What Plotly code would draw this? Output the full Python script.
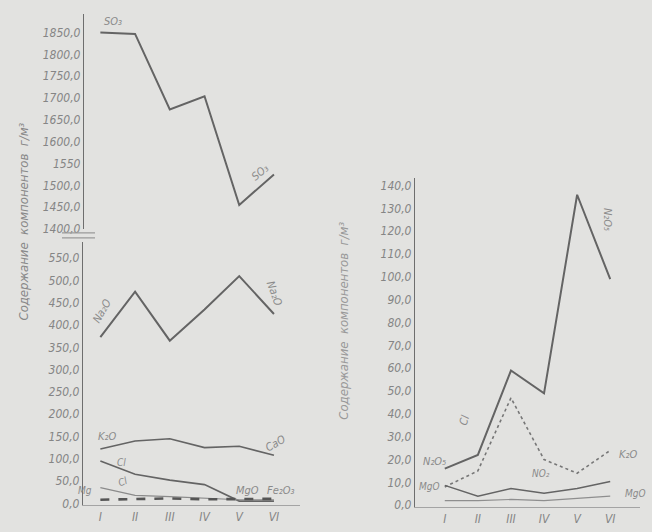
import plotly.graph_objects as go

# Months of observation
months = ["I", "II", "III", "IV", "V", "VI"]
month_idx = [1, 2, 3, 4, 5, 6]

# Left panel, upper scale (g/m3)
so3 = [1850, 1847, 1674, 1704, 1455, 1525]
# Left panel, lower scale (g/m3)
na2o = [373, 475, 365, 435, 510, 425]
k2o_left = [122, 140, 145, 125, 128, 108]
cl_left = [95, 65, 52, 42, 5, 5]
mgo_left = [35, 18, 15, 12, 8, 8]
fe2o3_left = [8, 9, 11, 9, 10, 10]

# Right panel (g/m3)
n2o5 = [16, 22, 59, 49, 136, 99]
k2o_right = [8, 15, 47, 20, 14, 24]
no2 = [8.7, 3.9, 7.3, 5.2, 7.3, 10.4]
mgo_right = [2, 2, 2.5, 2, 3, 4]

# Tick labels
upper_vals = [1400, 1450, 1500, 1550, 1600, 1650, 1700, 1750, 1800, 1850]
upper_text = ["1400,0", "1450,0", "1500,0", "1550", "1600,0", "1650,0",
              "1700,0", "1750,0", "1800,0", "1850,0"]
lower_vals = list(range(0, 551, 50))
lower_text = ["0,0", "50,0", "100,0", "150,0", "200,0", "250,0", "300,0",
              "350,0", "400,0", "450,0", "500,0", "550,0"]
right_vals = list(range(0, 141, 10))
right_text = ["0,0", "10,0", "20,0", "30,0", "40,0", "50,0", "60,0", "70,0",
              "80,0", "90,0", "100,0", "110,0", "120,0", "130,0", "140,0"]

W, H = 652, 532
INK = "#646464"
TXT = "#858585"
FONT = "DejaVu Sans Condensed"


def fy(p):
    return 1 - p / H


def fx(p):
    return p / W


fig = go.Figure()


def line(x, y, xa, ya, width=1.8, dash="solid", color=INK):
    fig.add_trace(go.Scatter(x=x, y=y, xaxis=xa, yaxis=ya, mode="lines",
                             line=dict(color=color, width=width, dash=dash),
                             hoverinfo="skip", showlegend=False))


line(month_idx, so3, "x", "y3", 2.0)
line(month_idx, na2o, "x", "y", 2.0)
line(month_idx, k2o_left, "x", "y", 1.6)
line(month_idx, cl_left, "x", "y", 1.6)
line(month_idx, mgo_left, "x", "y", 1.2, color="#8a8a8a")
line(month_idx, fe2o3_left, "x", "y", 2.6, dash="dash", color="#555555")

line(month_idx, n2o5, "x2", "y2", 2.0)
line(month_idx, k2o_right, "x2", "y2", 1.6, dash="dot", color="#777777")
line(month_idx, no2, "x2", "y2", 1.4)
line(month_idx, mgo_right, "x2", "y2", 1.2, color="#8e8e8e")

tickfont = dict(family=FONT, size=12, color=TXT, style="italic")
axis_common = dict(showgrid=False, zeroline=False, ticks="", showline=True,
                   linecolor="#6e6e6e", linewidth=1.3, tickfont=tickfont)
xaxis_common = dict(showgrid=False, zeroline=False, ticks="", showline=True,
                    linecolor="#a4a4a4", linewidth=1.0, tickfont=tickfont)

fig.update_layout(
    width=W, height=H,
    margin=dict(l=0, r=0, t=0, b=0),
    paper_bgcolor="#e2e2e0", plot_bgcolor="rgba(0,0,0,0)",
    xaxis=dict(domain=[fx(83), fx(300)], range=[0.5, 6.75], anchor="y",
               tickvals=month_idx, ticktext=months, **xaxis_common),
    yaxis=dict(domain=[fy(512), fy(245)], range=[-4.4, 587], anchor="x",
               tickvals=lower_vals, ticktext=lower_text, **axis_common),
    yaxis3=dict(domain=[fy(232), fy(14)], range=[1400, 1893], anchor="free",
                position=fx(83), tickvals=upper_vals, ticktext=upper_text,
                **axis_common),
    xaxis2=dict(domain=[fx(415), fx(640)], range=[0.1, 6.9], anchor="y2",
                tickvals=month_idx, ticktext=months, **xaxis_common),
    yaxis2=dict(domain=[fy(514), fy(180)], range=[-0.9, 143.5], anchor="x2",
                tickvals=right_vals, ticktext=right_text, **axis_common),
)

lab = dict(family=FONT, size=11, color="#8a8a8a", style="italic")


def note(text, x, y, xa, ya, angle=0, size=11):
    f = dict(lab)
    f["size"] = size
    fig.add_annotation(text=text, x=x, y=y, xref=xa, yref=ya, showarrow=False,
                       textangle=angle, font=f)


# Series labels, left panel
note("SO₃", 1.35, 1876, "x", "y3")
note("SO₃", 5.6, 1530, "x", "y3", angle=-40)
note("Na₂O", 1.05, 430, "x", "y", angle=-60)
note("Na₂O", 6.0, 470, "x", "y", angle=70)
note("K₂O", 1.2, 150, "x", "y")
note("CaO", 6.05, 135, "x", "y", angle=-30)
note("Cl", 1.6, 92, "x", "y", size=10)
note("Cl", 1.65, 50, "x", "y", angle=-20, size=10)
note("Mg", 0.55, 28, "x", "y", size=10)
note("MgO", 5.25, 28, "x", "y")
note("Fe₂O₃", 6.2, 28, "x", "y")

# Series labels, right panel
note("N₂O₅", 0.7, 19, "x2", "y2")
note("N₂O₅", 5.9, 125, "x2", "y2", angle=90)
note("Cl", 1.6, 37, "x2", "y2", angle=-75)
note("K₂O", 6.55, 22, "x2", "y2")
note("NO₂", 3.9, 14, "x2", "y2", size=10)
note("MgO", 0.55, 8, "x2", "y2", size=10)
note("MgO", 6.75, 5, "x2", "y2", size=10)

# Axis titles
fig.add_annotation(text="Содержание  компонентов  г/м³", x=fx(14), y=fy(225),
                   xref="paper", yref="paper", showarrow=False, textangle=-90,
                   font=dict(family=FONT, size=13, color="#888888", style="italic"))
fig.add_annotation(text="Содержание  компонентов  г/м³", x=fx(344), y=fy(325),
                   xref="paper", yref="paper", showarrow=False, textangle=-90,
                   font=dict(family=FONT, size=13, color="#999999", style="italic"))

# Scale break on the left axis
for yy in (236, 241):
    fig.add_shape(type="line", xref="paper", yref="paper",
                  x0=fx(62), x1=fx(95), y0=fy(yy), y1=fy(yy),
                  line=dict(color="#9a9a9a", width=1.2))

fig.write_html("out.html")
